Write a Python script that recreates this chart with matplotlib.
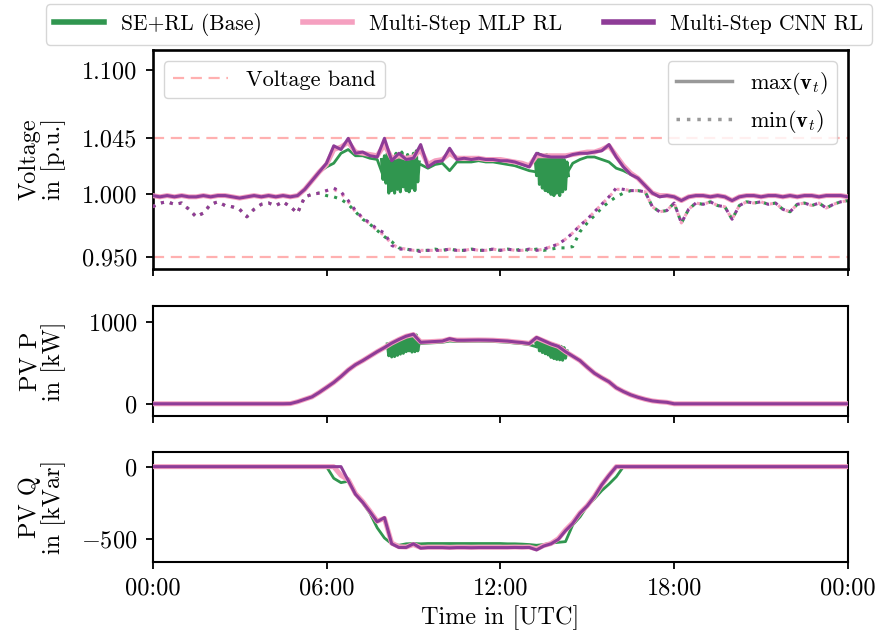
import numpy as np
import matplotlib
matplotlib.use("Agg")
import matplotlib.pyplot as plt
from matplotlib.lines import Line2D

plt.rcParams['font.family'] = 'cmr10'
plt.rcParams['mathtext.fontset'] = 'cm'
plt.rcParams['axes.formatter.use_mathtext'] = True
plt.rcParams['font.size'] = 17.5

# time grid: every 15 minutes over one day (hours)
hours = np.arange(97) * 0.25

# ---- voltage, max over buses [p.u.] ----
cnn_vmax = [
    0.999, 0.998, 0.999, 0.998, 0.999, 0.998, 0.998, 0.999,
    0.998, 0.999, 0.999, 0.998, 0.997, 0.998, 0.999, 0.998,
    0.999, 0.998, 0.999, 0.998, 0.999, 1.004, 1.011, 1.018,
    1.025, 1.039, 1.036, 1.045, 1.033, 1.034, 1.031, 1.030,
    1.045, 1.027, 1.033, 1.028, 1.029, 1.040, 1.022, 1.026,
    1.027, 1.037, 1.028, 1.029, 1.028, 1.029, 1.028, 1.028,
    1.027, 1.027, 1.026, 1.024, 1.022, 1.033, 1.031, 1.030,
    1.030, 1.030, 1.032, 1.033, 1.033, 1.034, 1.035, 1.040,
    1.030, 1.022, 1.016, 1.013, 1.007, 1.001, 0.998, 0.999,
    0.998, 0.995, 0.998, 0.999, 0.999, 0.998, 0.999, 0.998,
    0.995, 0.998, 0.999, 0.999, 0.998, 0.999, 0.999, 0.998,
    0.999, 0.998, 0.999, 0.999, 0.998, 0.999, 0.999, 0.999,
    0.998]
mlp_vmax = [
    0.999, 0.998, 0.999, 0.998, 0.999, 0.998, 0.998, 0.999,
    0.998, 0.999, 0.999, 0.998, 0.997, 0.998, 0.999, 0.998,
    0.999, 0.998, 0.999, 0.998, 0.999, 1.004, 1.011, 1.018,
    1.024, 1.036, 1.038, 1.042, 1.034, 1.033, 1.032, 1.031,
    1.040, 1.029, 1.031, 1.029, 1.030, 1.036, 1.024, 1.027,
    1.028, 1.033, 1.029, 1.029, 1.029, 1.029, 1.028, 1.028,
    1.028, 1.027, 1.026, 1.025, 1.023, 1.031, 1.031, 1.031,
    1.031, 1.031, 1.032, 1.033, 1.034, 1.034, 1.036, 1.039,
    1.031, 1.023, 1.017, 1.013, 1.007, 1.001, 0.999, 0.999,
    0.998, 0.995, 0.998, 0.999, 0.999, 0.998, 0.999, 0.998,
    0.995, 0.998, 0.999, 0.999, 0.998, 0.999, 0.999, 0.998,
    0.999, 0.998, 0.999, 0.999, 0.998, 0.999, 0.999, 0.999,
    0.998]
base_vmax = [
    0.999, 0.998, 0.999, 0.998, 0.999, 0.998, 0.998, 0.999,
    0.998, 0.999, 0.999, 0.998, 0.997, 0.998, 0.999, 0.998,
    0.999, 0.998, 0.999, 0.998, 0.999, 1.004, 1.011, 1.018,
    1.022, 1.025, 1.033, 1.036, 1.031, 1.031, 1.029, 1.028,
    1.012, 1.020, 1.018, 1.020, 1.022, 1.024, 1.021, 1.024,
    1.025, 1.019, 1.026, 1.026, 1.026, 1.027, 1.026, 1.026,
    1.025, 1.024, 1.023, 1.021, 1.019, 1.018, 1.015, 1.012,
    1.010, 1.015, 1.025, 1.028, 1.030, 1.030, 1.028, 1.026,
    1.021, 1.019, 1.016, 1.013, 1.007, 1.001, 0.998, 0.999,
    0.998, 0.995, 0.998, 0.999, 0.999, 0.998, 0.999, 0.998,
    0.995, 0.998, 0.999, 0.999, 0.998, 0.999, 0.999, 0.998,
    0.999, 0.998, 0.999, 0.999, 0.998, 0.999, 0.999, 0.999,
    0.998]

# ---- voltage, min over buses [p.u.] ----
cnn_vmin = [
    0.990, 0.993, 0.994, 0.992, 0.993, 0.988, 0.982, 0.985,
    0.992, 0.994, 0.991, 0.990, 0.988, 0.982, 0.988, 0.992,
    0.993, 0.991, 0.994, 0.990, 0.985, 0.998, 1.000, 1.001,
    1.003, 1.005, 1.002, 0.995, 0.987, 0.981, 0.977, 0.972,
    0.969, 0.959, 0.956, 0.956, 0.955, 0.954, 0.955, 0.955,
    0.955, 0.956, 0.955, 0.955, 0.956, 0.955, 0.955, 0.956,
    0.955, 0.956, 0.955, 0.955, 0.956, 0.955, 0.956, 0.958,
    0.960, 0.964, 0.969, 0.975, 0.980, 0.986, 0.992, 0.998,
    1.005, 1.004, 1.003, 1.003, 1.002, 0.990, 0.986, 0.987,
    0.993, 0.977, 0.988, 0.993, 0.992, 0.994, 0.991, 0.990,
    0.980, 0.991, 0.994, 0.993, 0.994, 0.992, 0.993, 0.988,
    0.986, 0.992, 0.993, 0.991, 0.993, 0.989, 0.992, 0.994,
    0.995]
mlp_vmin = [
    0.990, 0.993, 0.994, 0.992, 0.993, 0.988, 0.982, 0.985,
    0.992, 0.994, 0.991, 0.990, 0.988, 0.982, 0.988, 0.992,
    0.993, 0.991, 0.994, 0.990, 0.985, 0.998, 1.000, 1.001,
    1.003, 1.004, 1.001, 0.994, 0.986, 0.981, 0.976, 0.971,
    0.967, 0.960, 0.957, 0.956, 0.955, 0.955, 0.955, 0.955,
    0.955, 0.956, 0.955, 0.955, 0.956, 0.955, 0.955, 0.956,
    0.955, 0.956, 0.955, 0.955, 0.956, 0.955, 0.956, 0.958,
    0.960, 0.964, 0.969, 0.975, 0.980, 0.986, 0.992, 0.998,
    1.004, 1.004, 1.003, 1.003, 1.002, 0.990, 0.986, 0.987,
    0.993, 0.977, 0.988, 0.993, 0.992, 0.994, 0.991, 0.990,
    0.980, 0.991, 0.994, 0.993, 0.994, 0.992, 0.993, 0.988,
    0.986, 0.992, 0.993, 0.991, 0.993, 0.989, 0.992, 0.994,
    0.995]
base_vmin = [
    0.990, 0.993, 0.994, 0.992, 0.993, 0.988, 0.982, 0.985,
    0.992, 0.994, 0.991, 0.990, 0.988, 0.982, 0.988, 0.992,
    0.993, 0.991, 0.994, 0.990, 0.985, 0.998, 1.000, 1.001,
    0.999, 0.998, 0.996, 0.992, 0.986, 0.980, 0.976, 0.971,
    0.966, 0.962, 0.957, 0.956, 0.955, 0.955, 0.955, 0.956,
    0.955, 0.956, 0.955, 0.955, 0.956, 0.955, 0.955, 0.956,
    0.955, 0.956, 0.955, 0.956, 0.955, 0.956, 0.955, 0.956,
    0.957, 0.957, 0.958, 0.970, 0.977, 0.983, 0.989, 0.994,
    0.998, 1.001, 1.003, 1.003, 1.002, 0.990, 0.986, 0.987,
    0.993, 0.977, 0.988, 0.993, 0.992, 0.994, 0.991, 0.990,
    0.980, 0.991, 0.994, 0.993, 0.994, 0.992, 0.993, 0.988,
    0.986, 0.992, 0.993, 0.991, 0.993, 0.989, 0.992, 0.994,
    0.995]

# fast oscillation of the base controller (3-minute samples)
osc_v1_t = [7.90, 7.95, 8.00, 8.05, 8.10, 8.15, 8.20, 8.25, 8.30, 8.35,
            8.40, 8.45, 8.50, 8.55, 8.60, 8.65, 8.70, 8.75, 8.80, 8.85,
            8.90, 8.95, 9.00, 9.05, 9.10, 9.15, 9.20]
osc_v1 = [1.028, 1.012, 1.031, 1.009, 1.033, 1.001, 1.032, 1.003, 1.030, 1.001,
          1.033, 1.004, 1.031, 1.002, 1.034, 1.006, 1.029, 1.003, 1.032, 1.002,
          1.030, 1.005, 1.033, 1.003, 1.035, 1.010, 1.026]
osc_v2_t = [13.20, 13.25, 13.30, 13.35, 13.40, 13.45, 13.50, 13.55, 13.60, 13.65,
            13.70, 13.75, 13.80, 13.85, 13.90, 13.95, 14.00, 14.05, 14.10, 14.15,
            14.20, 14.25, 14.30, 14.35]
osc_v2 = [1.030, 1.015, 1.033, 1.008, 1.032, 1.005, 1.031, 1.003, 1.032, 1.002,
          1.030, 1.000, 1.031, 0.999, 1.030, 1.001, 1.029, 0.999, 1.030, 1.002,
          1.028, 1.004, 1.026, 1.015]

# ---- PV active power [kW] ----
cnn_p = [
    0, 0, 0, 0, 0, 0, 0, 0,
    0, 0, 0, 0, 0, 0, 0, 0,
    0, 0, 0, 2, 25, 55, 85, 140,
    200, 262, 335, 415, 480, 530, 585, 640,
    690, 745, 790, 830, 855, 755, 760, 765,
    770, 800, 780, 780, 782, 783, 782, 780,
    775, 770, 760, 752, 740, 815, 775, 735,
    705, 640, 585, 530, 450, 375, 320, 270,
    197, 150, 110, 80, 55, 35, 25, 18,
    0, 0, 0, 0, 0, 0, 0, 0,
    0, 0, 0, 0, 0, 0, 0, 0,
    0, 0, 0, 0, 0, 0, 0, 0,
    0]
mlp_p = [
    0, 0, 0, 0, 0, 0, 0, 0,
    0, 0, 0, 0, 0, 0, 0, 0,
    0, 0, 0, 2, 25, 55, 85, 140,
    200, 262, 335, 415, 480, 530, 585, 640,
    690, 745, 790, 830, 850, 760, 762, 767,
    772, 795, 782, 782, 783, 784, 783, 781,
    776, 771, 761, 753, 742, 810, 772, 735,
    705, 640, 585, 530, 450, 375, 320, 270,
    197, 150, 110, 80, 55, 35, 25, 18,
    0, 0, 0, 0, 0, 0, 0, 0,
    0, 0, 0, 0, 0, 0, 0, 0,
    0, 0, 0, 0, 0, 0, 0, 0,
    0]
base_p = [
    0, 0, 0, 0, 0, 0, 0, 0,
    0, 0, 0, 0, 0, 0, 0, 0,
    0, 0, 0, 2, 25, 55, 85, 140,
    200, 262, 335, 415, 480, 530, 585, 640,
    685, 700, 745, 790, 800, 740, 745, 750,
    755, 770, 765, 765, 767, 768, 767, 765,
    760, 755, 745, 738, 725, 700, 690, 680,
    670, 620, 585, 530, 450, 375, 320, 270,
    197, 150, 110, 80, 55, 35, 25, 18,
    0, 0, 0, 0, 0, 0, 0, 0,
    0, 0, 0, 0, 0, 0, 0, 0,
    0, 0, 0, 0, 0, 0, 0, 0,
    0]
osc_p1_t = [8.10, 8.15, 8.20, 8.25, 8.30, 8.35, 8.40, 8.45, 8.50, 8.55,
            8.60, 8.65, 8.70, 8.75, 8.80, 8.85, 8.90, 8.95, 9.00, 9.05,
            9.10, 9.15, 9.20]
osc_p1 = [735, 590, 745, 575, 755, 580, 765, 595, 775, 610,
          785, 620, 795, 640, 805, 650, 815, 635, 830, 640,
          845, 650, 750]
osc_p2_t = [13.20, 13.25, 13.30, 13.35, 13.40, 13.45, 13.50, 13.55, 13.60, 13.65,
            13.70, 13.75, 13.80, 13.85, 13.90, 13.95, 14.00, 14.05, 14.10, 14.15,
            14.20, 14.25, 14.30]
osc_p2 = [790, 700, 785, 650, 775, 630, 765, 615, 755, 600,
          745, 570, 735, 555, 725, 545, 715, 540, 705, 535,
          690, 560, 650]

# ---- PV reactive power [kVar] ----
cnn_q = [
    0, 0, 0, 0, 0, 0, 0, 0,
    0, 0, 0, 0, 0, 0, 0, 0,
    0, 0, 0, 0, 0, 0, 0, 0,
    0, 0, 0, -95, -190, -245, -310, -378,
    -350, -530, -555, -555, -530, -560, -556, -556,
    -556, -558, -556, -556, -557, -556, -556, -556,
    -556, -556, -555, -556, -555, -572, -545, -530,
    -500, -440, -390, -320, -270, -205, -125, -60,
    0, 0, 0, 0, 0, 0, 0, 0,
    0, 0, 0, 0, 0, 0, 0, 0,
    0, 0, 0, 0, 0, 0, 0, 0,
    0, 0, 0, 0, 0, 0, 0, 0,
    0]
mlp_q = [
    0, 0, 0, 0, 0, 0, 0, 0,
    0, 0, 0, 0, 0, 0, 0, 0,
    0, 0, 0, 0, 0, 0, 0, 0,
    0, 0, -60, -90, -185, -240, -305, -375,
    -355, -525, -550, -552, -535, -555, -553, -553,
    -553, -555, -553, -553, -554, -553, -553, -553,
    -553, -553, -552, -553, -552, -565, -542, -528,
    -495, -435, -385, -318, -268, -203, -125, -60,
    0, 0, 0, 0, 0, 0, 0, 0,
    0, 0, 0, 0, 0, 0, 0, 0,
    0, 0, 0, 0, 0, 0, 0, 0,
    0, 0, 0, 0, 0, 0, 0, 0,
    0]
base_q = [
    0, 0, 0, 0, 0, 0, 0, 0,
    0, 0, 0, 0, 0, 0, 0, 0,
    0, 0, 0, 0, 0, 0, 0, 0,
    0, -80, -110, -100, -190, -250, -320, -420,
    -490, -530, -540, -530, -528, -530, -528, -528,
    -528, -528, -528, -528, -528, -528, -528, -528,
    -528, -530, -530, -532, -535, -540, -535, -525,
    -520, -515, -400, -345, -270, -220, -165, -120,
    -70, 0, 0, 0, 0, 0, 0, 0,
    0, 0, 0, 0, 0, 0, 0, 0,
    0, 0, 0, 0, 0, 0, 0, 0,
    0, 0, 0, 0, 0, 0, 0, 0,
    0]

labels = ["SE+RL (Base)", "Multi-Step MLP RL", "Multi-Step CNN RL"]
colors = ["#30964f", "#f5a0c0", "#8e3c97"]
band = [0.95, 1.045]
time_ticks = [0, 6, 12, 18, 24]
time_labels = ["00:00", "06:00", "12:00", "18:00", "00:00"]

fig = plt.figure(figsize=(8.79, 6.39), dpi=100)
ax_v = fig.add_axes([0.1737, 0.579, 0.791, 0.3428])
ax_p = fig.add_axes([0.1737, 0.349, 0.791, 0.172], sharex=ax_v)
ax_q = fig.add_axes([0.1737, 0.1205, 0.791, 0.172], sharex=ax_v)

dots = (0, (1, 2))
lws = [2.0, 3.6, 2.2]
osc_lw = 2.2

# voltage panel
for b in band:
    ax_v.axhline(b, color="#ffb0b0", lw=1.6, ls=(0, (5, 3)), zorder=1)
ax_v.plot(osc_v1_t, osc_v1, color=colors[0], lw=osc_lw, zorder=2)
ax_v.plot(osc_v2_t, osc_v2, color=colors[0], lw=osc_lw, zorder=2)
for k, (vmax, vmin) in enumerate([(base_vmax, base_vmin), (mlp_vmax, mlp_vmin),
                                  (cnn_vmax, cnn_vmin)]):
    ax_v.plot(hours, vmax, color=colors[k], lw=lws[k], zorder=2 + k)
    ax_v.plot(hours, vmin, color=colors[k], lw=2.2, ls=dots, zorder=2 + k)
ax_v.set_ylim(0.94, 1.116)
ax_v.set_yticks([0.95, 1.0, 1.045, 1.1])
ax_v.set_yticklabels(["0.950", "1.000", "1.045", "1.100"])

band_leg = ax_v.legend([Line2D([], [], color="#ffb0b0", lw=1.6, ls=(0, (5, 3)))],
                       ["Voltage band"], loc="upper left", fontsize=16,
                       handlelength=2.5, edgecolor="#cccccc", fancybox=True)
ax_v.add_artist(band_leg)
ax_v.legend([Line2D([], [], color="#999999", lw=2.5),
             Line2D([], [], color="#999999", lw=2.5, ls=dots)],
            [r"$\max(\mathbf{v}_t)$", r"$\min(\mathbf{v}_t)$"],
            loc="upper right", fontsize=16, handlelength=2.5,
            edgecolor="#cccccc", fancybox=True)

# active power panel
ax_p.plot(osc_p1_t, osc_p1, color=colors[0], lw=osc_lw, zorder=2)
ax_p.plot(osc_p2_t, osc_p2, color=colors[0], lw=osc_lw, zorder=2)
for k, p in enumerate([base_p, mlp_p, cnn_p]):
    ax_p.plot(hours, p, color=colors[k], lw=lws[k], zorder=2 + k)
ax_p.set_ylim(-150, 1200)
ax_p.set_yticks([0, 1000])

# reactive power panel
for k, q in enumerate([base_q, mlp_q, cnn_q]):
    ax_q.plot(hours, q, color=colors[k], lw=lws[k], zorder=2 + k)
ax_q.set_ylim(-655, 100)
ax_q.set_yticks([-500, 0])

ylabels = ["Voltage\nin [p.u.]", "PV P\nin [kW]", "PV Q\nin [kVar]"]
for ax, lab in zip([ax_v, ax_p, ax_q], ylabels):
    ax.set_ylabel(lab, multialignment="center", linespacing=1.0)
    ax.yaxis.set_label_coords(-0.125, 0.5)
    ax.set_xlim(0, 24)
    ax.set_xticks(time_ticks)
    ax.tick_params(direction="out", length=5, width=1.3, pad=6)
    for s in ax.spines.values():
        s.set_linewidth(1.5)
for s in ax_v.spines.values():
    s.set_linewidth(1.9)

ax_v.tick_params(labelbottom=False)
ax_p.tick_params(labelbottom=False)
ax_q.set_xticklabels(time_labels)
ax_q.set_xlabel("Time in [UTC]")

handles = [Line2D([], [], color=c, lw=4) for c in colors]
fig.legend(handles, labels, loc="upper center", bbox_to_anchor=(0.522, 1.0),
           ncol=3, fontsize=15.5, handlelength=2.3, columnspacing=1.9,
           edgecolor="#cccccc", fancybox=True, borderaxespad=0.2)

fig.savefig("out.png", dpi=100)
